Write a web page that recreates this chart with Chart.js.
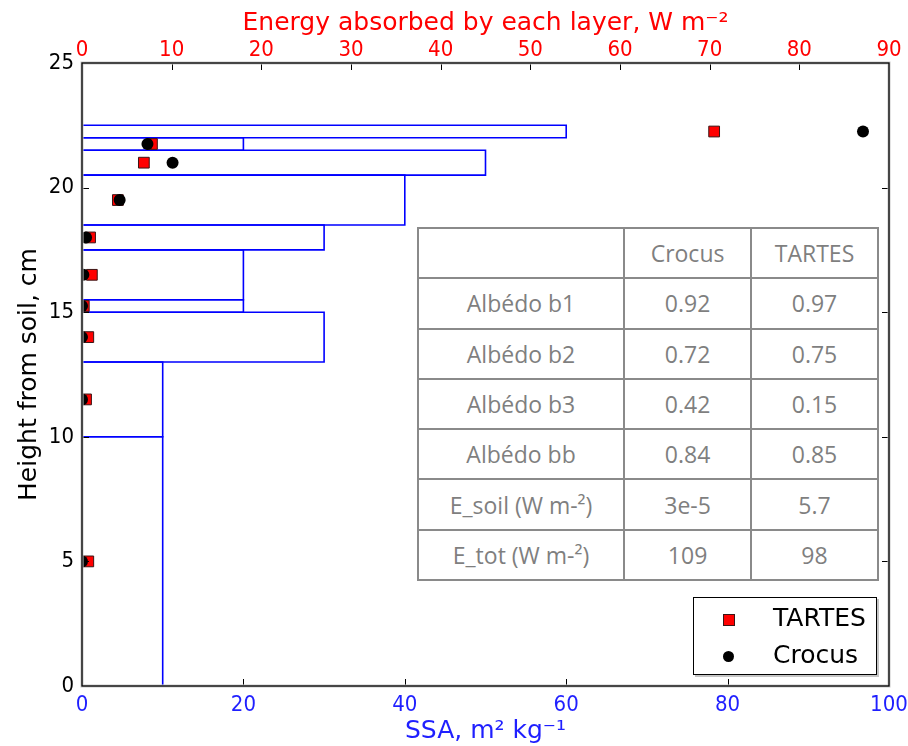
<!DOCTYPE html>
<html>
<head>
<meta charset="utf-8">
<script src="https://cdn.jsdelivr.net/npm/chart.js@4.4.1/dist/chart.umd.min.js"></script>
<style>
  html, body { margin: 0; padding: 0; background: #fff; }
  #wrap { position: relative; width: 908px; height: 746px; }
  #stats {
    position: absolute; left: 417px; top: 227px; width: 462px; height: 354px;
    border-collapse: collapse; table-layout: fixed; background: #fff;
    font-family: 'Open Sans', sans-serif; font-size: 23px; color: #7f7f7f;
  }
  #stats td { border: 2px solid #8a8a8a; text-align: center; padding: 0; }
  #legend {
    position: absolute; left: 693px; top: 597px; width: 182px; height: 76px;
    border: 1px solid #000; background: #fff; box-shadow: 2px 2px 0 #c4c4c4;
    font-family: 'DejaVu Sans', sans-serif; font-size: 25px; color: #000;
  }
  #legend .mk { position: absolute; }
  #legend .lab { position: absolute; left: 79px; line-height: 30px; }
</style>
</head>
<body>
<div id="wrap">
  <canvas id="chart" width="908" height="746"></canvas>
  <table id="stats"><colgroup><col style="width:44.8%"><col style="width:27.6%"><col style="width:27.6%"></colgroup></table>
  <div id="legend"></div>
</div>
<script>
// snow layers: bottom / top heights (cm) and SSA (m2 kg-1)
const layerBottom = [0, 10, 13, 15, 15.5, 17.5, 18.5, 20.5, 21.5, 22];
const layerTop = [10, 13, 15, 15.5, 17.5, 18.5, 20.5, 21.5, 22, 22.5];
const ssa = [10, 10, 30, 20, 20, 30, 40, 50, 20, 60];

// energy absorbed by each layer (W m-2), plotted at the layer middle
const pointHeight = [5, 11.5, 14, 15.25, 16.5, 18, 19.5, 21, 21.75, 22.25];
const energyTartes = [0.7, 0.45, 0.7, 0.2, 1.1, 0.9, 4.0, 6.9, 7.8, 70.5];
const energyCrocus = [0, 0, 0, 0, 0.15, 0.45, 4.2, 10.1, 7.3, 87.1];

const heightTicks = [0, 5, 10, 15, 20, 25];
const ssaTicks = [0, 20, 40, 60, 80, 100];
const energyTicks = [0, 10, 20, 30, 40, 50, 60, 70, 80, 90];

// summary table
const tableHeader = ['', 'Crocus', 'TARTES'];
const tableLabels = ['Albédo b1', 'Albédo b2', 'Albédo b3', 'Albédo bb', 'E_soil (W m-²)', 'E_tot (W m-²)'];
const crocusStats = ['0.92', '0.72', '0.42', '0.84', '3e-5', '109'];
const tartesStats = ['0.97', '0.75', '0.15', '0.85', '5.7', '98'];

const BLUE = '#0000ff';
const RED = '#ff0000';

const layerSets = ssa.map((v, i) => ({
    type: 'scatter',
    showLine: true,
    xAxisID: 'x',
    yAxisID: 'y',
    data: [
        {x: 0, y: layerBottom[i]},
        {x: v, y: layerBottom[i]},
        {x: v, y: layerTop[i]},
        {x: 0, y: layerTop[i]},
        {x: 0, y: layerBottom[i]},
    ],
    borderColor: BLUE,
    borderWidth: 1.6,
    pointRadius: 0,
    fill: false,
    order: 3,
}));

const frameTicks = {
    id: 'frameTicks',
    afterDatasetsDraw(chart) {
        const {ctx, chartArea: a, scales} = chart;
        ctx.save();
        ctx.strokeStyle = '#000';
        ctx.lineWidth = 1;
        ctx.beginPath();
        heightTicks.forEach(v => {
            const p = Math.round(scales.y.getPixelForValue(v)) + 0.5;
            ctx.moveTo(a.left, p); ctx.lineTo(a.left + 7, p);
            ctx.moveTo(a.right, p); ctx.lineTo(a.right - 7, p);
        });
        ssaTicks.forEach(v => {
            const p = Math.round(scales.x.getPixelForValue(v)) + 0.5;
            ctx.moveTo(p, a.bottom); ctx.lineTo(p, a.bottom - 7);
        });
        energyTicks.forEach(v => {
            const p = Math.round(scales.x2.getPixelForValue(v)) + 0.5;
            ctx.moveTo(p, a.top); ctx.lineTo(p, a.top + 7);
        });
        ctx.stroke();
        ctx.strokeStyle = '#c8c8c8';
        ctx.lineWidth = 3;
        ctx.strokeRect(a.left, a.top, a.right - a.left, a.bottom - a.top);
        ctx.strokeStyle = '#000';
        ctx.lineWidth = 1.3;
        ctx.strokeRect(a.left, a.top, a.right - a.left, a.bottom - a.top);
        ctx.restore();
    }
};

const tickFont = {family: "'DejaVu Sans Condensed', 'DejaVu Sans'", size: 22};
const titleFont = {family: "'DejaVu Sans'", size: 25};

// keep the plot box fixed: no extra room for overflowing tick labels
function fixHoriz(h) {
    return (s) => { s.height = h; s.paddingLeft = 0; s.paddingRight = 0; };
}

new Chart(document.getElementById('chart'), {
    type: 'scatter',
    data: {
        datasets: [
            {
                label: 'Crocus',
                xAxisID: 'x2',
                yAxisID: 'y',
                data: pointHeight.map((h, i) => ({x: energyCrocus[i], y: h})),
                pointStyle: 'circle',
                pointRadius: 6,
                backgroundColor: '#000',
                borderColor: '#000',
                borderWidth: 0,
                order: 1,
            },
            {
                label: 'TARTES',
                xAxisID: 'x2',
                yAxisID: 'y',
                data: pointHeight.map((h, i) => ({x: energyTartes[i], y: h})),
                pointStyle: 'rect',
                pointRadius: 7.6,
                backgroundColor: RED,
                borderColor: '#3b1515',
                borderWidth: 1,
                order: 2,
            },
            ...layerSets,
        ]
    },
    options: {
        responsive: false,
        animation: false,
        layout: {padding: {top: 0, left: 0, right: 19, bottom: 0}},
        plugins: {
            legend: {display: false},
            tooltip: {enabled: false},
        },
        scales: {
            x: {
                type: 'linear',
                position: 'bottom',
                min: 0, max: 100,
                grid: {display: false, drawTicks: false},
                border: {display: false},
                ticks: {stepSize: 20, color: '#1f1fff', font: tickFont, padding: 6, maxRotation: 0},
                title: {display: true, text: 'SSA, m² kg⁻¹', color: '#1f1fff', font: titleFont, padding: {top: 0, bottom: 0}},
                afterFit: fixHoriz(60),
            },
            x2: {
                type: 'linear',
                position: 'top',
                min: 0, max: 90,
                grid: {display: false, drawTicks: false},
                border: {display: false},
                ticks: {stepSize: 10, color: RED, font: tickFont, padding: 0, maxRotation: 0},
                title: {display: true, text: 'Energy absorbed by each layer, W m⁻²', color: RED, font: titleFont, padding: {top: 8, bottom: 0}},
                afterFit: fixHoriz(63),
            },
            y: {
                type: 'linear',
                position: 'left',
                min: 0, max: 25,
                grid: {display: false, drawTicks: false},
                border: {display: false},
                ticks: {stepSize: 5, color: '#000', font: tickFont, padding: 8},
                title: {display: true, text: 'Height from soil, cm', color: '#000', font: titleFont, padding: {top: 14, bottom: 0}},
                afterFit: (s) => { s.width = 82; s.paddingTop = 0; s.paddingBottom = 0; },
            },
        },
    },
    plugins: [frameTicks],
});

// table
const table = document.getElementById('stats');
const rows = [tableHeader].concat(tableLabels.map((l, i) => [l, crocusStats[i], tartesStats[i]]));
rows.forEach(r => {
    const tr = document.createElement('tr');
    r.forEach(c => {
        const td = document.createElement('td');
        td.textContent = c;
        tr.appendChild(td);
    });
    table.appendChild(tr);
});

// legend
const legend = document.getElementById('legend');
legend.innerHTML =
    '<div class="mk" style="left:29px;top:16px;width:10px;height:10px;background:' + RED + ';border:1px solid #3b1515"></div>' +
    '<div class="lab" style="top:5px">TARTES</div>' +
    '<div class="mk" style="left:29px;top:53px;width:11px;height:11px;border-radius:50%;background:#000"></div>' +
    '<div class="lab" style="top:42px">Crocus</div>';
</script>
</body>
</html>
